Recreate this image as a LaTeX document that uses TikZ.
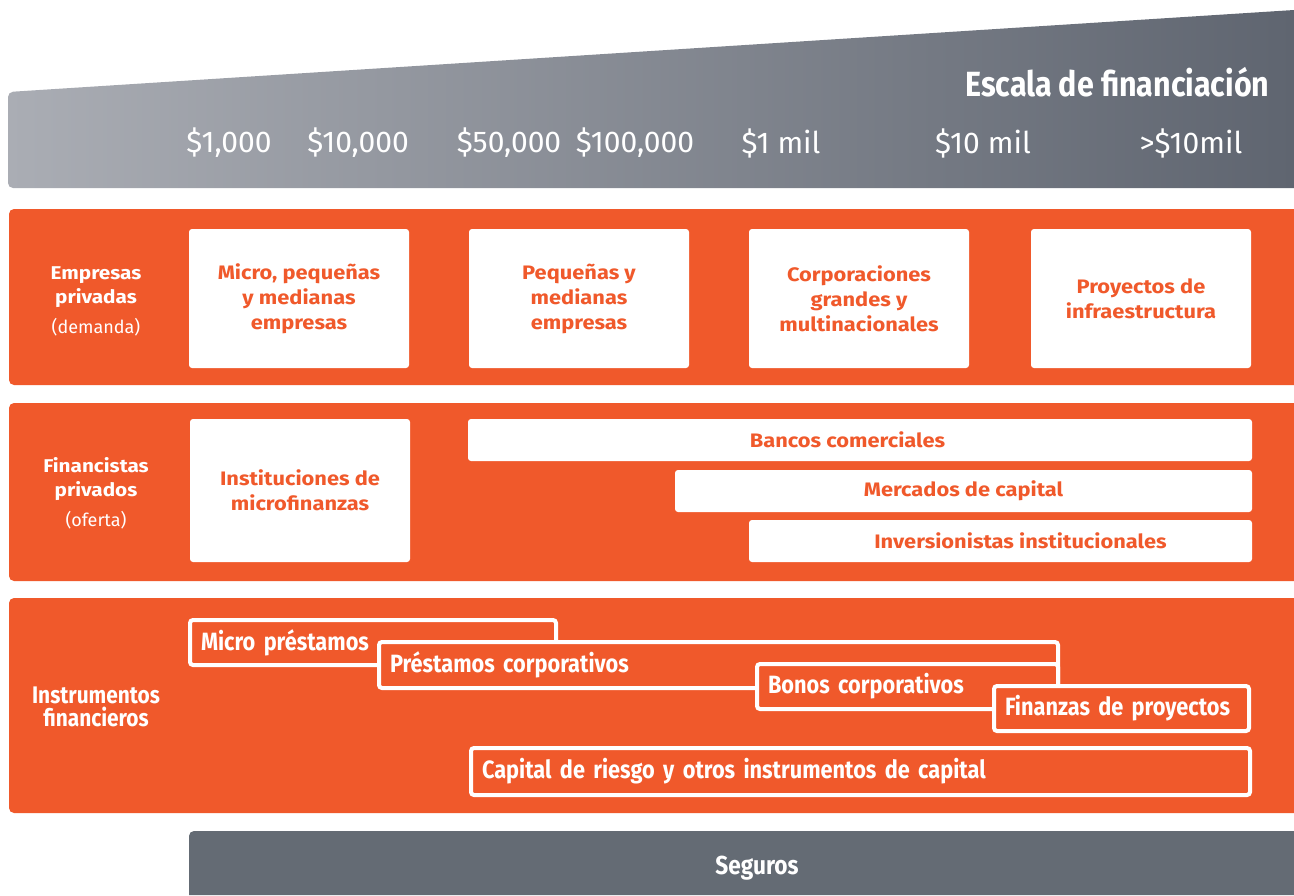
\documentclass[tikz,border=0pt]{standalone}
\usepackage{fontspec}
\setmainfont{Fira Sans}
\newfontfamily\condf[FakeStretch=0.87]{Fira Sans}
\newfontfamily\widef[FakeStretch=1.12]{Fira Sans}
\newcommand\tightsp[1]{\spaceskip=#1\relax}
\definecolor{brandorange}{HTML}{F0592B}
\definecolor{graylight}{HTML}{AAADB4}
\definecolor{graydark}{HTML}{5F6570}
\definecolor{segurogray}{HTML}{646B74}
\tikzset{
  band/.style={fill=brandorange},
  whitebox/.style={fill=white, rounded corners=3pt, text=brandorange, font=\widef\fontsize{19.5}{25}\selectfont\bfseries, align=center, inner sep=0pt},
  widebox/.style={fill=white, rounded corners=3pt, text=brandorange, font=\widef\fontsize{19.5}{23}\selectfont\bfseries, inner sep=0pt},
  sidelabel/.style={text=white, font=\widef\fontsize{18.5}{24}\selectfont\bfseries, align=center},
  amount/.style={text=white, font=\fontsize{30}{34}\selectfont},
  instr/.style={draw=white, line width=4pt, fill=brandorange, rounded corners=3pt, text=white, font=\condf\fontsize{25}{28}\selectfont\bfseries\tightsp{4.5pt}, align=left, inner ysep=0pt, inner xsep=11pt},
}
\begin{document}
\begin{tikzpicture}[x=1pt, y=-1pt]
\useasboundingbox (0,0) rectangle (1294,895);
% top gray scale shape
\shade[left color=graylight, right color=graydark] (1294,10) -- (1294,188) [rounded corners=5pt] -- (8,188) -- (8,92) [sharp corners] -- cycle;
\node[text=white, font=\condf\fontsize{35}{38}\selectfont\bfseries\tightsp{7pt}, anchor=east] (escala) at (1273,82) {Escala de financiación};
\node[amount] (a1) at (229,143) {\$1,000};
\node[amount] (a2) at (358,143) {\$10,000};
\node[amount] (a3) at (509,143) {\$50,000};
\node[amount] (a4) at (635,143) {\$100,000};
\node[amount] (a5) at (781,143) {\$1 mil};
\node[amount] (a6) at (983,143) {\$10 mil};
\node[amount] (a7) at (1191,143) {>\$10mil};
% orange bands
\fill[band] (1294,209) -- (1294,385) [rounded corners=5pt] -- (9,385) -- (9,209) [sharp corners] -- cycle;
\fill[band] (1294,403) -- (1294,581) [rounded corners=5pt] -- (9,581) -- (9,403) [sharp corners] -- cycle;
\fill[band] (1294,598) -- (1294,813) [rounded corners=5pt] -- (9,813) -- (9,598) [sharp corners] -- cycle;
% seguros band
\fill[segurogray] (1294,895) -- (189,895) [rounded corners=5pt] -- (189,831) [sharp corners] -- (1294,831) -- cycle;
\node[text=white, font=\condf\fontsize{26}{28}\selectfont\bfseries] (seguros) at (757,868) {Seguros};
% row 1
\node[sidelabel] (emp) at (96,301) {Empresas\\privadas\\[6pt]{\normalfont\fontsize{18}{24}\selectfont (demanda)}};
\node[whitebox, minimum width=220pt, minimum height=139pt] (mpe) at (299,298.5) {Micro, pequeñas\\y medianas\\empresas};
\node[whitebox, minimum width=220pt, minimum height=139pt] (pme) at (579,298.5) {Pequeñas y\\medianas\\empresas};
\node[whitebox, minimum width=220pt, minimum height=139pt] (corp) at (859,298.5) {Corporaciones\\grandes y\\multinacionales};
\node[whitebox, minimum width=220pt, minimum height=139pt] (proy) at (1141,298.5) {Proyectos de\\infraestructura};
% row 2
\node[sidelabel] (fin) at (96,493) {Financistas\\privados\\[6pt]{\normalfont\fontsize{18}{24}\selectfont (oferta)}};
\node[whitebox, minimum width=220pt, minimum height=143pt] (imf) at (300,490.5) {Instituciones de\\microfinanzas};
\node[widebox, minimum width=784pt, minimum height=42pt] (banc) at (860,440) {Bancos comerciales\rule{25pt}{0pt}};
\node[widebox, minimum width=577pt, minimum height=42pt] (merc) at (963.5,491) {Mercados de capital};
\node[widebox, minimum width=503pt, minimum height=42pt] (inv) at (1000.5,541) {\hspace*{40pt}Inversionistas institucionales};
% row 3
\node[text=white, font=\condf\fontsize{24}{23}\selectfont\bfseries, align=center] (ins) at (96,707) {Instrumentos\\financieros};
\node[instr, text width=344pt, minimum height=45pt] (micro) at (373,642.5) {Micro préstamos};
\node[instr, text width=657pt, minimum height=46pt] (prest) at (718.5,665) {Préstamos corporativos};
\node[instr, text width=279pt, minimum height=45pt] (bonos) at (907.5,686.5) {Bonos corporativos};
\node[instr, text width=233pt, minimum height=45pt] (finp) at (1121.5,708.5) {Finanzas de proyectos};
\node[instr, text width=757pt, minimum height=47pt] (capr) at (860.5,771.5) {Capital de riesgo y otros instrumentos de capital};
\end{tikzpicture}
\end{document}
